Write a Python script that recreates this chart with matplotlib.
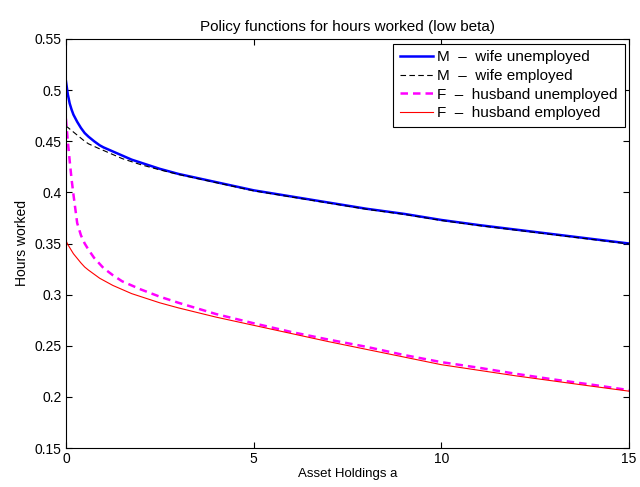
import matplotlib
matplotlib.use('Agg')
import matplotlib.pyplot as plt
from matplotlib.ticker import FormatStrFormatter

plt.rcParams['font.family'] = ['Liberation Sans', 'DejaVu Sans']

# asset grid and policy functions
a = [0, 0.05, 0.1, 0.15, 0.2, 0.3, 0.4, 0.5, 0.6, 0.75, 0.9, 1.0, 1.25, 1.5, 1.75, 2, 2.5, 3, 4,
     5, 6, 7, 8, 9, 10, 11, 12, 13, 14, 15]
m_wife_unemp = [0.509, 0.496, 0.487, 0.481, 0.476, 0.469, 0.463, 0.458, 0.4545, 0.450, 0.446,
                0.444, 0.440, 0.436, 0.432, 0.429, 0.423, 0.418, 0.410,
                0.402, 0.396, 0.390, 0.384, 0.379, 0.373, 0.368, 0.3635, 0.359, 0.3545, 0.350]
m_wife_emp = [0.465, 0.4635, 0.462, 0.4605, 0.459, 0.456, 0.453, 0.450, 0.4475, 0.445, 0.4425,
              0.441, 0.437, 0.433, 0.430, 0.427, 0.422, 0.4175, 0.4095,
              0.4015, 0.3955, 0.3895, 0.3835, 0.3785, 0.3725, 0.3675, 0.363, 0.3585, 0.354, 0.3495]
f_husb_unemp = [0.472, 0.450, 0.431, 0.413, 0.398, 0.370, 0.358, 0.350, 0.344, 0.336, 0.330,
                0.326, 0.319, 0.313, 0.309, 0.305, 0.298, 0.292, 0.281,
                0.272, 0.2635, 0.256, 0.249, 0.241, 0.234, 0.2285, 0.2225, 0.217, 0.212, 0.2066]
f_husb_emp = [0.353, 0.349, 0.346, 0.343, 0.340, 0.3355, 0.331, 0.327, 0.324, 0.320, 0.316,
              0.314, 0.309, 0.305, 0.301, 0.298, 0.292, 0.287, 0.278,
              0.270, 0.262, 0.254, 0.2465, 0.239, 0.2315, 0.226, 0.2205, 0.2155, 0.2105, 0.2056]

labels = ['M  \u2013  wife unemployed', 'M  \u2013  wife employed',
          'F  \u2013  husband unemployed', 'F  \u2013  husband employed']

fig = plt.figure(figsize=(6.4, 4.87), dpi=100)
ax = fig.add_axes([0.103, 0.08, 0.880, 0.84])

ax.plot(a, m_wife_unemp, color='blue', lw=1.8, label=labels[0])
ax.plot(a, m_wife_emp, color='black', lw=0.8, ls=(0, (5, 3)), label=labels[1])
ax.plot(a, f_husb_unemp, color='magenta', lw=1.8, ls=(0, (3, 2)), label=labels[2])
ax.plot(a, f_husb_emp, color='red', lw=0.8, label=labels[3])

ax.set_xlim(0, 15)
ax.set_ylim(0.15, 0.55)
ax.set_xticks([0, 5, 10, 15])
ax.set_yticks([0.15, 0.2, 0.25, 0.3, 0.35, 0.4, 0.45, 0.5, 0.55])
ax.yaxis.set_major_formatter(FormatStrFormatter('%g'))
ax.tick_params(direction='in', top=True, right=True, labelsize=10, length=4, pad=3)
for s in ax.spines.values():
    s.set_linewidth(0.8)

ax.set_title('Policy functions for hours worked (low beta)', fontsize=11, pad=6)
ax.set_xlabel('Asset Holdings a', fontsize=9.5, labelpad=1)
ax.set_ylabel('Hours worked', fontsize=10, labelpad=4)

leg = ax.legend(loc='upper right', fontsize=11, fancybox=False, edgecolor='black',
                handlelength=2.2, handletextpad=0.25, borderpad=0.45, labelspacing=0.3,
                borderaxespad=0.3, framealpha=1)
leg.get_frame().set_linewidth(0.8)

fig.savefig('out.png', dpi=100)
